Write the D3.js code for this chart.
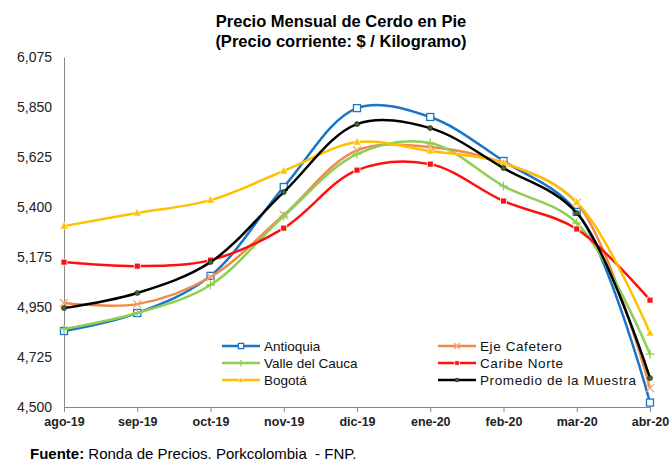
<!DOCTYPE html>
<html>
<head>
<meta charset="utf-8">
<script src="https://cdn.jsdelivr.net/npm/d3@7"></script>
<style>
  body { margin: 0; background: #fff; }
  text { font-family: "Liberation Sans", Arial, sans-serif; }
</style>
</head>
<body>
<div class="canva"></div>
<script>
var width = 670;
var height = 462;

// meses y valores
const months = ['ago-19', 'sep-19', 'oct-19', 'nov-19', 'dic-19', 'ene-20', 'feb-20', 'mar-20', 'abr-20'];
const antioquia = [4842, 4923, 5090, 5490, 5845, 5805, 5607, 5378, 4520];
const ejeCafetero = [4968, 4963, 5085, 5364, 5655, 5670, 5598, 5418, 4585];
const valleCauca = [4851, 4923, 5049, 5359, 5638, 5688, 5494, 5328, 4738];
const caribeNorte = [5152, 5134, 5161, 5305, 5566, 5593, 5427, 5301, 4981];
const bogota = [5314, 5373, 5431, 5562, 5692, 5652, 5598, 5422, 4833];
const promedio = [4945, 5013, 5152, 5467, 5773, 5755, 5575, 5373, 4630];
const yTicks = [4500, 4725, 4950, 5175, 5400, 5625, 5850, 6075];

const series = [
  {name: 'Antioquia', values: antioquia, color: '#1B75C6', marker: 'square'},
  {name: 'Eje Cafetero', values: ejeCafetero, color: '#EE8A4A', marker: 'x'},
  {name: 'Valle del Cauca', values: valleCauca, color: '#8FCE55', marker: 'plus'},
  {name: 'Caribe Norte', values: caribeNorte, color: '#FF1010', marker: 'fsquare'},
  {name: 'Bogotá', values: bogota, color: '#FFC000', marker: 'triangle'},
  {name: 'Promedio de la Muestra', values: promedio, color: '#000000', marker: 'dot'}
];

const svg = d3.select('.canva').append('svg')
  .attr('width', width)
  .attr('height', height);

const x = d3.scalePoint().domain(months).range([64, 650]);
const y = d3.scaleLinear().domain([4500, 6075]).range([407, 57]);

// titulo
svg.append('text').attr('x', 341).attr('y', 27).attr('text-anchor', 'middle')
  .style('font-weight', 'bold').style('font-size', '16.5px')
  .text('Precio Mensual de Cerdo en Pie');
svg.append('text').attr('x', 341).attr('y', 47).attr('text-anchor', 'middle')
  .style('font-weight', 'bold').style('font-size', '16.5px')
  .text('(Precio corriente: $ / Kilogramo)');

// ejes
const yAxis = svg.append('g').attr('transform', 'translate(64,0)')
  .call(d3.axisLeft(y).tickValues(yTicks).tickFormat(d3.format(',')).tickSize(0).tickPadding(12));
yAxis.select('.domain').attr('stroke', '#888');
yAxis.selectAll('text').style('font-size', '14px').attr('fill', '#222').attr('font-family', '"Liberation Sans", Arial, sans-serif');

const xAxis = svg.append('g').attr('transform', 'translate(0,407)')
  .call(d3.axisBottom(x).tickSize(5).tickPadding(5).tickSizeOuter(0));
xAxis.select('.domain').attr('stroke', '#888').attr('d', 'M64,0.5H650');
xAxis.selectAll('line').attr('stroke', '#888');
xAxis.selectAll('text').style('font-size', '12.5px').style('font-weight', 'bold').attr('fill', '#222')
  .attr('font-family', '"Liberation Sans", Arial, sans-serif');

const line = d3.line()
  .x((d, i) => x(months[i]))
  .y(d => y(d))
  .curve(d3.curveCatmullRom.alpha(0.5));

function drawMarker(g, type, color, cx, cy, k) {
  k = k || 1;
  if (type === 'square') {
    g.append('rect').attr('x', cx - 3.5 * k).attr('y', cy - 3.5 * k).attr('width', 7 * k).attr('height', 7 * k)
      .attr('fill', '#fff').attr('stroke', color).attr('stroke-width', 1.3);
  } else if (type === 'fsquare') {
    g.append('rect').attr('x', cx - 3 * k).attr('y', cy - 3 * k).attr('width', 6 * k).attr('height', 6 * k)
      .attr('fill', color).attr('stroke', '#fff').attr('stroke-width', 0.8);
  } else if (type === 'x') {
    const r = 4 * k;
    g.append('path').attr('d', `M${cx-r},${cy-r}L${cx+r},${cy+r}M${cx-r},${cy+r}L${cx+r},${cy-r}`)
      .attr('stroke', '#F4A27A').attr('stroke-width', 1.3);
  } else if (type === 'plus') {
    const r = 4.5 * k;
    g.append('path').attr('d', `M${cx-r},${cy}L${cx+r},${cy}M${cx},${cy-r}L${cx},${cy+r}`)
      .attr('stroke', color).attr('stroke-width', 1.3);
  } else if (type === 'triangle') {
    g.append('path').attr('d', `M${cx},${cy-4.5*k}L${cx+4*k},${cy+3*k}L${cx-4*k},${cy+3*k}Z`)
      .attr('fill', color).attr('stroke', '#fff').attr('stroke-width', 0.6);
  } else if (type === 'dot') {
    g.append('circle').attr('cx', cx).attr('cy', cy).attr('r', 2.5 * k)
      .attr('fill', '#3A6B2A').attr('stroke', '#000').attr('stroke-width', 0.5);
  }
}

series.forEach(s => {
  const g = svg.append('g');
  g.append('path').datum(s.values)
    .attr('d', line)
    .attr('fill', 'none')
    .attr('stroke', s.color)
    .attr('stroke-width', 2.5);
  s.values.forEach((v, i) => drawMarker(g, s.marker, s.color, x(months[i]), y(v)));
});

// leyenda
const legendX = [222, 438];
const legendY = [346, 363, 380];
series.forEach((s, i) => {
  const lx = legendX[i % 2];
  const ly = legendY[Math.floor(i / 2)];
  const g = svg.append('g');
  g.append('line').attr('x1', lx).attr('x2', lx + 38).attr('y1', ly).attr('y2', ly)
    .attr('stroke', s.color).attr('stroke-width', 2.5);
  drawMarker(g, s.marker, s.color, lx + 19, ly, 0.75);
  g.append('text').attr('x', lx + 42).attr('y', ly + 5).style('font-size', '13.5px')
    .style('letter-spacing', i % 2 ? '0.6px' : '0px').attr('fill', '#111').text(s.name);
});

// fuente
const src = svg.append('text').attr('x', 30).attr('y', 459).style('font-size', '15px');
src.append('tspan').style('font-weight', 'bold').text('Fuente:');
src.append('tspan').text(' Ronda de Precios. Porkcolombia  - FNP.').attr('xml:space', 'preserve');
</script>
</body>
</html>
